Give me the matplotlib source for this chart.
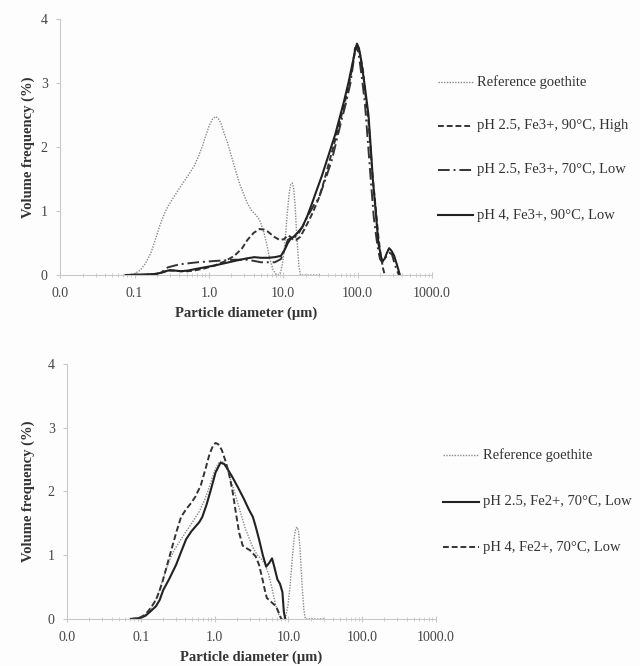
import matplotlib
matplotlib.use("Agg")
import matplotlib.pyplot as plt
from matplotlib.lines import Line2D

plt.rcParams["font.family"] = ["Liberation Serif", "DejaVu Serif"]

# reference goethite (same sample in both panels)
ref_d = [0.076, 0.09, 0.1, 0.12, 0.14, 0.165, 0.19, 0.22, 0.25, 0.28, 0.32, 0.35, 0.42,
         0.52, 0.63, 0.72, 0.82, 0.92, 1.02, 1.12, 1.23, 1.33, 1.45, 1.6, 1.8, 2.1, 2.6,
         3.3, 3.8, 4.3, 4.8, 5.4, 6.0, 6.6, 7.3, 8.0, 8.5, 9.2, 9.9, 10.6, 11.3, 12.0,
         12.6, 13.2, 13.8, 14.4, 15.2, 16.2, 17.0, 20.0, 25.0, 32.0]
ref_v = [0.0, 0.01, 0.02, 0.08, 0.18, 0.34, 0.55, 0.78, 0.95, 1.07, 1.18, 1.25, 1.39,
         1.55, 1.7, 1.85, 2.02, 2.2, 2.35, 2.44, 2.48, 2.45, 2.38, 2.22, 2.05, 1.78, 1.42,
         1.12, 1.0, 0.94, 0.86, 0.7, 0.48, 0.25, 0.08, 0.01, 0.0, 0.04, 0.22, 0.55, 0.95,
         1.28, 1.42, 1.44, 1.36, 1.1, 0.6, 0.15, 0.0, 0.0, 0.0, 0.0]

# top panel: Fe3+ samples
high_d = [0.076, 0.16, 0.2, 0.25, 0.28, 0.35, 0.42, 0.52, 0.63, 0.85, 1.2, 1.6, 2.2, 2.8,
          3.3, 4.0, 4.8, 5.5, 6.2, 7.5, 8.9, 10.2, 11.5, 12.5, 13.5, 15.0, 17.0, 21.0,
          25.0, 30.0, 35.0, 40.0, 47.0, 55.0, 64.0, 74.0, 83.0, 92.0, 100.0, 108.0,
          118.0, 128.0, 140.0, 150.0, 160.0, 175.0, 190.0, 205.0, 220.0, 232.0]
high_v = [0.0, 0.01, 0.02, 0.05, 0.08, 0.07, 0.06, 0.06, 0.07, 0.1, 0.15, 0.21, 0.3, 0.42,
          0.55, 0.66, 0.72, 0.71, 0.68, 0.6, 0.55, 0.56, 0.62, 0.6, 0.55, 0.55, 0.6, 0.8,
          0.98, 1.2, 1.45, 1.7, 2.0, 2.3, 2.6, 2.9, 3.2, 3.5, 3.58, 3.45, 3.2, 2.8, 2.4,
          1.95, 1.5, 1.05, 0.6, 0.3, 0.1, 0.0]

low70_d = [0.076, 0.16, 0.2, 0.25, 0.28, 0.35, 0.42, 0.7, 1.2, 2.2, 3.2, 4.1, 5.0, 6.2,
           7.7, 9.3, 10.5, 11.5, 12.6, 14.0, 16.0, 18.0, 22.0, 26.0, 30.0, 37.0, 45.0,
           52.0, 60.0, 70.0, 80.0, 87.0, 92.0, 98.0, 105.0, 115.0, 125.0, 137.0, 150.0,
           165.0, 185.0, 200.0, 215.0, 240.0, 270.0, 290.0, 310.0, 335.0, 360.0]
low70_v = [0.0, 0.01, 0.02, 0.07, 0.12, 0.15, 0.17, 0.2, 0.22, 0.24, 0.24, 0.22, 0.2,
           0.2, 0.2, 0.25, 0.4, 0.55, 0.58, 0.58, 0.65, 0.75, 0.95, 1.1, 1.2, 1.5, 1.8,
           2.1, 2.4, 2.7, 3.0, 3.3, 3.55, 3.58, 3.4, 3.05, 2.7, 2.1, 1.5, 0.9, 0.45,
           0.25, 0.2, 0.28, 0.35, 0.32, 0.2, 0.08, 0.0]

ph4_d = [0.076, 0.16, 0.2, 0.25, 0.28, 0.35, 0.42, 0.52, 0.7, 1.2, 2.2, 3.2, 4.1, 5.0,
         6.2, 7.7, 9.3, 10.5, 11.5, 12.6, 13.8, 15.5, 18.0, 21.0, 24.0, 28.0, 33.0, 40.0,
         50.0, 57.0, 65.0, 75.0, 85.0, 92.0, 98.0, 104.0, 110.0, 125.0, 140.0, 150.0,
         160.0, 175.0, 190.0, 205.0, 215.0, 230.0, 248.0, 265.0, 285.0, 310.0, 340.0, 370.0]
ph4_v = [0.0, 0.01, 0.02, 0.05, 0.07, 0.07, 0.06, 0.07, 0.1, 0.15, 0.22, 0.26, 0.28,
         0.27, 0.27, 0.28, 0.3, 0.4, 0.5, 0.57, 0.6, 0.66, 0.75, 0.92, 1.1, 1.32, 1.55,
         1.85, 2.2, 2.45, 2.7, 3.0, 3.3, 3.5, 3.62, 3.55, 3.4, 2.95, 2.5, 2.0, 1.5, 1.0,
         0.5, 0.3, 0.22, 0.25, 0.35, 0.42, 0.38, 0.3, 0.15, 0.0]

# bottom panel: Fe2+ samples
fe2_low_d = [0.073, 0.09, 0.1, 0.115, 0.135, 0.16, 0.18, 0.2, 0.24, 0.3, 0.35, 0.41,
             0.48, 0.55, 0.62, 0.68, 0.78, 0.9, 1.03, 1.2, 1.35, 1.5, 1.75, 2.1, 2.5, 2.9,
             3.3, 3.6, 4.0, 4.5, 5.0, 5.5, 6.0, 6.5, 7.1, 7.7, 8.3, 8.7, 9.1]
fe2_low_v = [0.0, 0.01, 0.02, 0.05, 0.12, 0.2, 0.3, 0.45, 0.62, 0.85, 1.05, 1.25, 1.37,
             1.45, 1.52, 1.6, 1.8, 2.05, 2.3, 2.45, 2.43, 2.35, 2.22, 2.05, 1.88, 1.72,
             1.6, 1.45, 1.25, 1.0, 0.82, 0.88, 0.95, 0.8, 0.62, 0.55, 0.42, 0.1, 0.0]

ph4_fe2_d = [0.073, 0.09, 0.1, 0.115, 0.135, 0.16, 0.18, 0.2, 0.24, 0.3, 0.35, 0.41,
             0.48, 0.55, 0.65, 0.75, 0.85, 0.95, 1.03, 1.12, 1.25, 1.4, 1.55, 1.75, 1.95,
             2.15, 2.4, 2.6, 3.0, 3.6, 4.0, 4.5, 4.8, 5.1, 5.8, 6.8, 7.4, 8.0]
ph4_fe2_v = [0.0, 0.01, 0.03, 0.07, 0.17, 0.3, 0.45, 0.62, 0.95, 1.35, 1.6, 1.72, 1.82,
             1.92, 2.1, 2.35, 2.58, 2.72, 2.76, 2.74, 2.65, 2.48, 2.3, 2.0, 1.65, 1.35,
             1.15, 1.12, 1.08, 0.98, 0.85, 0.6, 0.45, 0.33, 0.27, 0.2, 0.1, 0.0]

tick_vals = [0.01, 0.1, 1, 10, 100, 1000]
tick_labels = ["0.0", "0.1", "1.0", "10.0", "100.0", "1000.0"]

fig = plt.figure(figsize=(6.4, 6.66), dpi=100)
fig.patch.set_facecolor("#fdfdfd")

ax1 = fig.add_axes([0.094, 0.587, 0.581, 0.384])
ax2 = fig.add_axes([0.105, 0.0706, 0.576, 0.383])

ref_style = dict(color="#8a8a8a", linestyle=(0, (1, 1)), lw=1.0)
dash_style = dict(color="#333333", linestyle=(0, (3, 1.5)), lw=1.4)
dashdot_style = dict(color="#333333", linestyle=(0, (6, 2, 1, 2)), lw=1.4)
solid_style = dict(color="#222222", linestyle="-", lw=1.5)

ax1.plot(ref_d, ref_v, **ref_style)
ax1.plot(high_d, high_v, **dash_style)
ax1.plot(low70_d, low70_v, **dashdot_style)
ax1.plot(ph4_d, ph4_v, **solid_style)

ax2.plot(ref_d, ref_v, **ref_style)
ax2.plot(fe2_low_d, fe2_low_v, **solid_style)
ax2.plot(ph4_fe2_d, ph4_fe2_v, **dash_style)

for ax, ylpad in [(ax1, 4), (ax2, 9)]:
    ax.set_facecolor("none")
    ax.set_xscale("log")
    ax.set_xlim(0.01, 1000)
    ax.set_ylim(0, 4)
    ax.set_xticks(tick_vals)
    ax.set_xticklabels(tick_labels)
    ax.set_yticks([0, 1, 2, 3, 4])
    ax.spines["top"].set_visible(False)
    ax.spines["right"].set_visible(False)
    ax.spines["left"].set_color("#c8c8c8")
    ax.spines["bottom"].set_color("#c8c8c8")
    ax.tick_params(axis="both", which="both", colors="#c8c8c8", labelcolor="#444444",
                   labelsize=10)
    ax.tick_params(axis="x", which="major", direction="inout", length=5, pad=6)
    ax.tick_params(axis="x", which="minor", direction="inout", length=3)
    ax.tick_params(axis="y", which="major", direction="out", length=3, pad=6)
    ax.set_xlabel("Particle diameter (\u00b5m)", fontsize=10.5, fontweight="bold",
                  color="#333333", labelpad=5)
    ax.set_ylabel("Volume frequency (%)", fontsize=10.5, fontweight="bold",
                  color="#333333", labelpad=ylpad)

# legends drawn beside each panel
top_labels = ["Reference goethite", "pH 2.5, Fe3+, 90\u00b0C, High",
              "pH 2.5, Fe3+, 70\u00b0C, Low", "pH 4, Fe3+, 90\u00b0C, Low"]
top_styles = [ref_style, dash_style, dashdot_style, solid_style]
top_y = [82, 126, 170, 215]

bot_labels = ["Reference goethite", "pH 2.5, Fe2+, 70\u00b0C, Low", "pH 4, Fe2+, 70\u00b0C, Low"]
bot_styles = [ref_style, solid_style, dash_style]
bot_y = [455, 502, 547]

W, H = 640.0, 666.0
for labels, styles, ys, x0, x1, xt in [(top_labels, top_styles, top_y, 438, 473, 477),
                                       (bot_labels, bot_styles, bot_y, 443, 479, 483)]:
    for lab, st, y in zip(labels, styles, ys):
        fig.add_artist(Line2D([x0 / W, x1 / W], [1 - y / H, 1 - y / H],
                              transform=fig.transFigure, **st))
        fig.text(xt / W, 1 - y / H, lab, fontsize=10.5, color="#333333",
                 va="center", ha="left")

fig.savefig("out.png", dpi=100, facecolor=fig.get_facecolor())
